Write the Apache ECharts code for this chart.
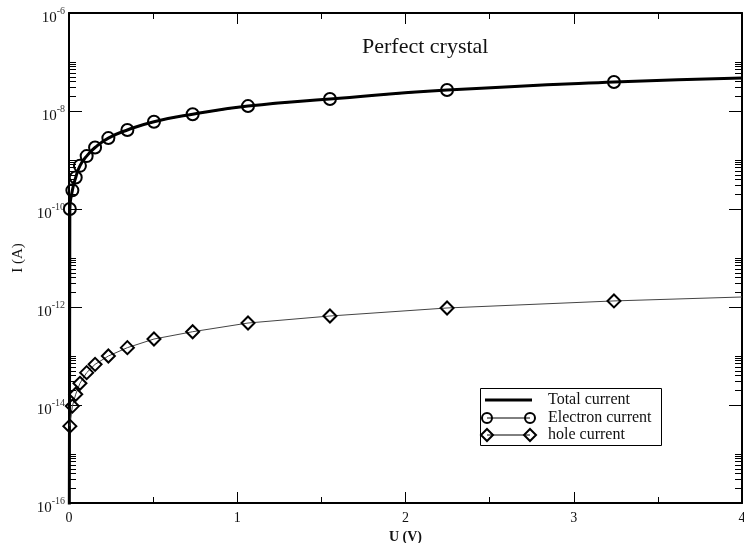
<!DOCTYPE html>
<html>
<head>
<meta charset="utf-8">
<script src="https://cdn.jsdelivr.net/npm/echarts@6/dist/echarts.min.js"></script>
<style>
  html, body { margin: 0; padding: 0; background: #fff; }
  #chart { width: 744px; height: 543px; }
</style>
</head>
<body>
<div id="chart"></div>
<script>
// Bias voltage (V) at which the currents were sampled
const voltage = [0.005, 0.02, 0.04, 0.065, 0.105, 0.155, 0.234, 0.347, 0.505, 0.735, 1.064, 1.551, 2.247, 3.239];
// Electron current (A)
const electronCurrent = [1.0e-10, 2.4e-10, 4.4e-10, 7.6e-10, 1.2e-9, 1.8e-9, 2.8e-9, 4.1e-9, 6.05e-9, 8.6e-9, 1.26e-8, 1.76e-8, 2.68e-8, 3.91e-8];
// Hole current (A)
const holeCurrent = [3.7e-15, 9.5e-15, 1.66e-14, 2.77e-14, 4.57e-14, 6.76e-14, 1.0e-13, 1.48e-13, 2.22e-13, 3.13e-13, 4.71e-13, 6.55e-13, 9.55e-13, 1.33e-12];
// Total current (A), sampled from zero bias to the end of the sweep
const totalVoltage = [0, 0.005, 0.02, 0.04, 0.065, 0.105, 0.155, 0.234, 0.347, 0.505, 0.735, 1.064, 1.551, 2.247, 3.239, 4];
const totalCurrent = [1e-20, 1.0e-10, 2.4e-10, 4.4e-10, 7.6e-10, 1.2e-9, 1.8e-9, 2.8e-9, 4.1e-9, 6.05e-9, 8.6e-9, 1.26e-8, 1.76e-8, 2.68e-8, 3.91e-8, 4.7e-8];
// End of the sweep for the component curves
const sweepEnd = 4;
const electronAtEnd = 4.7e-8;
const holeAtEnd = 1.6e-12;

// Axis ticks
const xTicks = [0, 1, 2, 3, 4];
const yMajorExponents = [-16, -14, -12, -10, -8, -6];
const yMajorTicks = yMajorExponents.map(e => Math.pow(10, e));
// minor ticks: 2..10 times each labelled decade
const yMinorTicks = [];
yMajorExponents.slice(0, -1).forEach(e => {
  for (let k = 2; k <= 10; k++) yMinorTicks.push(Number((k * Math.pow(10, e)).toPrecision(3)));
});

const serif = "'Liberation Serif', 'DejaVu Serif', serif";

function pairs(xs, ys) { return xs.map((x, i) => [x, ys[i]]); }

const electronData = pairs(voltage, electronCurrent);
electronData.push({ value: [sweepEnd, electronAtEnd], symbol: 'none' });
const holeData = pairs(voltage, holeCurrent);
holeData.push({ value: [sweepEnd, holeAtEnd], symbol: 'none' });

const frame = { show: true, onZero: false, lineStyle: { color: '#000', width: 2 } };
const noLine = { show: false, onZero: false };

function xAxisDef(pos, withLabels) {
  return {
    type: 'value', position: pos, min: xTicks[0], max: xTicks[xTicks.length - 1], interval: 1,
    axisLine: frame,
    axisTick: { show: true, inside: true, length: 11, lineStyle: { color: '#000', width: 1 } },
    minorTick: { show: true, splitNumber: 2, length: 6, lineStyle: { color: '#000', width: 1 } },
    splitLine: { show: false },
    axisLabel: withLabels ? { show: true, margin: 8, color: '#111', fontFamily: serif, fontSize: 14 } : { show: false },
    name: withLabels ? 'U (V)' : '',
    nameLocation: 'middle', nameGap: 23,
    nameTextStyle: { fontFamily: serif, fontSize: 14, fontWeight: 'bold', color: '#111' }
  };
}

function yAxisDef(pos, ticks, len, withLine, withLabels) {
  return {
    type: 'log', logBase: 10, position: pos, min: 1e-16, max: 1e-6,
    axisLine: withLine ? frame : noLine,
    axisTick: { show: true, inside: true, length: len, customValues: ticks, lineStyle: { color: '#000', width: 1 } },
    splitLine: { show: false },
    minorTick: { show: false },
    axisLabel: withLabels ? {
      show: true, margin: 4, customValues: yMajorTicks,
      formatter: v => '{b|10}{s|' + Math.round(Math.log10(v)) + '}',
      rich: {
        b: { fontFamily: serif, fontSize: 15, color: '#111', padding: [10, 0, 0, 0] },
        s: { fontFamily: serif, fontSize: 10, color: '#333', verticalAlign: 'top', padding: [6, 0, 0, 0] }
      }
    } : { show: false },
    name: withLabels ? 'I (A)' : '',
    nameLocation: 'middle', nameGap: 42,
    nameTextStyle: { fontFamily: serif, fontSize: 15, color: '#111' }
  };
}

const chart = echarts.init(document.getElementById('chart'));
chart.setOption({
  animation: false,
  backgroundColor: '#fff',
  title: {
    text: 'Perfect crystal', left: 357, top: 31,
    textStyle: { fontFamily: serif, fontSize: 22, fontWeight: 'normal', color: '#111' }
  },
  grid: { left: 69, right: 2, top: 13, bottom: 40, containLabel: false, outerBoundsMode: 'none' },
  xAxis: [xAxisDef('bottom', true), xAxisDef('top', false)],
  yAxis: [
    yAxisDef('left', yMajorTicks, 13, true, true),
    yAxisDef('left', yMinorTicks, 7, false, false),
    yAxisDef('right', yMajorTicks, 13, true, false),
    yAxisDef('right', yMinorTicks, 7, false, false)
  ],
  series: [
    {
      name: 'hole current', type: 'line', xAxisIndex: 0, yAxisIndex: 0,
      data: holeData, symbol: 'diamond', symbolSize: 13,
      lineStyle: { color: '#444', width: 1 },
      itemStyle: { color: 'rgba(0,0,0,0)', borderColor: '#000', borderWidth: 2 }
    },
    {
      name: 'Electron current', type: 'line', xAxisIndex: 0, yAxisIndex: 0,
      data: electronData, symbol: 'circle', symbolSize: 12,
      lineStyle: { color: '#000', width: 1 },
      itemStyle: { color: 'rgba(0,0,0,0)', borderColor: '#000', borderWidth: 2 }
    },
    {
      name: 'Total current', type: 'line', xAxisIndex: 0, yAxisIndex: 0,
      data: pairs(totalVoltage, totalCurrent), symbol: 'none',
      smooth: 0.5,
      lineStyle: { color: '#000', width: 3 }, z: 1
    }
  ],
  graphic: [
    { type: 'rect', shape: { x: 480.5, y: 388.5, width: 181, height: 57 }, style: { fill: '#fff', stroke: '#000', lineWidth: 1 }, z: 10 },
    { type: 'line', shape: { x1: 485, y1: 400, x2: 532, y2: 400 }, style: { stroke: '#000', lineWidth: 3 }, z: 11 },
    { type: 'line', shape: { x1: 487, y1: 418, x2: 530, y2: 418 }, style: { stroke: '#000', lineWidth: 1 }, z: 11 },
    { type: 'circle', shape: { cx: 487, cy: 418, r: 5 }, style: { fill: 'none', stroke: '#000', lineWidth: 2 }, z: 12 },
    { type: 'circle', shape: { cx: 530, cy: 418, r: 5 }, style: { fill: 'none', stroke: '#000', lineWidth: 2 }, z: 12 },
    { type: 'line', shape: { x1: 487, y1: 435, x2: 530, y2: 435 }, style: { stroke: '#000', lineWidth: 1 }, z: 11 },
    { type: 'polygon', shape: { points: [[487, 429], [493, 435], [487, 441], [481, 435]] }, style: { fill: 'none', stroke: '#000', lineWidth: 2 }, z: 12 },
    { type: 'polygon', shape: { points: [[530, 429], [536, 435], [530, 441], [524, 435]] }, style: { fill: 'none', stroke: '#000', lineWidth: 2 }, z: 12 },
    { type: 'text', x: 548, y: 400, style: { text: 'Total current', fontFamily: serif, fontSize: 16, fill: '#111', verticalAlign: 'middle' }, z: 12 },
    { type: 'text', x: 548, y: 418, style: { text: 'Electron current', fontFamily: serif, fontSize: 16, fill: '#111', verticalAlign: 'middle' }, z: 12 },
    { type: 'text', x: 548, y: 435, style: { text: 'hole current', fontFamily: serif, fontSize: 16, fill: '#111', verticalAlign: 'middle' }, z: 12 }
  ]
});
</script>
</body>
</html>
